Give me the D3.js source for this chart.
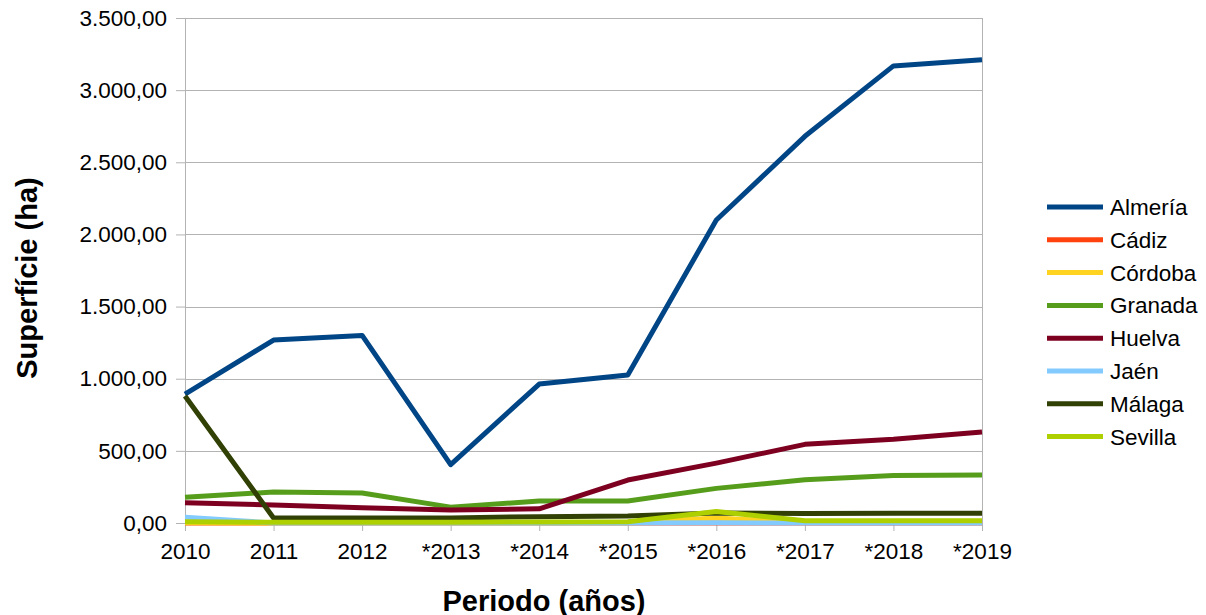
<script src="https://cdn.jsdelivr.net/npm/d3@7"></script>
<style>
  body { margin: 0; background: #fff; }
  text { font-family: "Liberation Sans", Arial, sans-serif; }
</style>
<svg id="vis"></svg>
<script>
  var years = ["2010", "2011", "2012", "*2013", "*2014", "*2015", "*2016", "*2017", "*2018", "*2019"]
  var almeria = [893, 1268, 1300, 405, 963, 1026, 2100, 2680, 3168, 3210]
  var cadiz   = [0, 0, 0, 0, 0, 0, 0, 0, 0, 0]
  var cordoba = [2, 0, 0, 0, 0, 2, 35, 3, 3, 3]
  var granada = [178, 215, 208, 110, 152, 152, 240, 300, 330, 332]
  var huelva  = [140, 125, 106, 90, 98, 298, 415, 545, 580, 630]
  var jaen    = [40, 0, 0, 0, 0, 0, 1, 0, 0, 0]
  var malaga  = [880, 35, 35, 35, 44, 48, 70, 65, 67, 67]
  var sevilla = [8, 5, 5, 5, 7, 8, 80, 15, 15, 15]
  var yTicks = [0, 500, 1000, 1500, 2000, 2500, 3000, 3500]

  var series = [
    { name: "Almería", values: almeria, color: "#004586" },
    { name: "Cádiz",   values: cadiz,   color: "#ff420e" },
    { name: "Córdoba", values: cordoba, color: "#ffd320" },
    { name: "Granada", values: granada, color: "#579d1c" },
    { name: "Huelva",  values: huelva,  color: "#7e0021" },
    { name: "Jaén",    values: jaen,    color: "#83caff" },
    { name: "Málaga",  values: malaga,  color: "#314004" },
    { name: "Sevilla", values: sevilla, color: "#aecf00" }
  ]

  var W = 1206, H = 615
  var plotLeft = 185, plotRight = 982, plotTop = 18, plotBottom = 523

  var svg = d3.select('#vis').attr('width', W).attr('height', H)

  var x = d3.scalePoint().domain(years).range([plotLeft, plotRight])
  var y = d3.scaleLinear().domain([0, 3500]).range([plotBottom, plotTop])

  var es = d3.formatLocale({ decimal: ",", thousands: ".", grouping: [3], currency: ["", "€"] })
  var fmt = es.format(",.2f")

  // gridlines
  svg.append('g').selectAll('line').data(yTicks).enter().append('line')
    .attr('x1', plotLeft).attr('x2', plotRight)
    .attr('y1', d => Math.round(y(d)) + 0.5).attr('y2', d => Math.round(y(d)) + 0.5)
    .attr('stroke', '#b3b3b3').attr('stroke-width', 1)

  // right border
  svg.append('line')
    .attr('x1', plotRight + 0.5).attr('x2', plotRight + 0.5).attr('y1', plotTop).attr('y2', plotBottom)
    .attr('stroke', '#b3b3b3')

  // y axis
  var yAxis = svg.append('g')
    .attr('transform', 'translate(' + plotLeft + ',0)')
    .call(d3.axisLeft(y).tickValues(yTicks).tickFormat(fmt).tickSize(9).tickPadding(9))
  yAxis.select('.domain').attr('stroke', '#b3b3b3')
  yAxis.selectAll('line').attr('stroke', '#b3b3b3')
  yAxis.selectAll('text').attr('font-size', 22.5).attr('fill', '#000')
    .style('font-family', '"Liberation Sans", Arial, sans-serif')

  // x axis
  var xAxis = svg.append('g')
    .attr('transform', 'translate(0,' + plotBottom + ')')
    .call(d3.axisBottom(x).tickSize(8).tickPadding(12))
  xAxis.select('.domain').attr('stroke', '#b3b3b3').attr('d', 'M' + plotLeft + ',0.5H' + plotRight)
  xAxis.selectAll('line').attr('stroke', '#b3b3b3')
  xAxis.selectAll('text').attr('font-size', 22.5).attr('fill', '#000')
    .style('font-family', '"Liberation Sans", Arial, sans-serif')

  // lines
  var line = d3.line().x((d, i) => x(years[i])).y(d => y(d))
  svg.append('g').selectAll('path').data(series).enter().append('path')
    .attr('d', d => line(d.values))
    .attr('fill', 'none')
    .attr('stroke', d => d.color)
    .attr('stroke-width', 5)
    .attr('stroke-linejoin', 'round')

  // axis titles
  svg.append('text')
    .attr('x', 544).attr('y', 611)
    .attr('text-anchor', 'middle')
    .attr('font-size', 29).attr('font-weight', 'bold')
    .text('Periodo (años)')
  svg.append('text')
    .attr('transform', 'translate(37,278) rotate(-90)')
    .attr('text-anchor', 'middle')
    .attr('font-size', 29).attr('font-weight', 'bold')
    .text('Superfície (ha)')

  // legend
  var legend = svg.append('g').selectAll('g').data(series).enter().append('g')
    .attr('transform', (d, i) => 'translate(1047,' + (207 + i * 32.8) + ')')
  legend.append('line')
    .attr('x1', 0).attr('x2', 56).attr('y1', 0).attr('y2', 0)
    .attr('stroke', d => d.color).attr('stroke-width', 5)
  legend.append('text')
    .attr('x', 63).attr('y', 8)
    .attr('font-size', 22.5)
    .text(d => d.name)
</script>
